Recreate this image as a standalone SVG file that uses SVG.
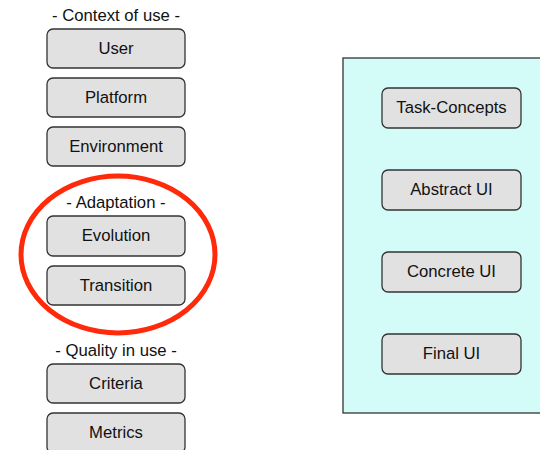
<svg xmlns="http://www.w3.org/2000/svg" width="540" height="450" viewBox="0 0 540 450">
<style>
.box{fill:#e1e1e1;stroke:#333;stroke-width:1.3}
.t{font-family:"Liberation Sans",Arial,sans-serif;font-size:16.7px;fill:#111;text-anchor:middle;dominant-baseline:central}
</style>
<rect width="540" height="450" fill="#fff"/>
<g id="container"><rect x="343" y="58" width="200" height="355" fill="#d3fcf8" stroke="#333" stroke-width="1.3"/></g>
<g id="lbl-context"><text class="t" x="116" y="15">- Context of use -</text></g>
<g id="user"><rect class="box" x="47" y="29" width="138" height="39" rx="6"/><text class="t" x="116" y="48">User</text></g>
<g id="platform"><rect class="box" x="47" y="78" width="138" height="39" rx="6"/><text class="t" x="116" y="97">Platform</text></g>
<g id="environment"><rect class="box" x="47" y="127" width="138" height="39" rx="6"/><text class="t" x="116" y="146">Environment</text></g>
<g id="lbl-adaptation"><text class="t" x="116" y="202.5">- Adaptation -</text></g>
<g id="evolution"><rect class="box" x="47" y="216" width="138" height="40" rx="6"/><text class="t" x="116" y="235.5">Evolution</text></g>
<g id="transition"><rect class="box" x="47" y="266" width="138" height="39" rx="6"/><text class="t" x="116" y="285">Transition</text></g>
<g id="lbl-quality"><text class="t" x="116" y="350.5">- Quality in use -</text></g>
<g id="criteria"><rect class="box" x="47" y="364" width="138" height="39" rx="6"/><text class="t" x="116" y="383">Criteria</text></g>
<g id="metrics"><rect class="box" x="47" y="413" width="138" height="40" rx="6"/><text class="t" x="116" y="432.5">Metrics</text></g>
<g id="task"><rect class="box" x="382" y="88" width="139" height="40" rx="6"/><text class="t" x="451.5" y="107.5">Task-Concepts</text></g>
<g id="abstract"><rect class="box" x="382" y="170" width="139" height="40" rx="6"/><text class="t" x="451.5" y="189.5">Abstract UI</text></g>
<g id="concrete"><rect class="box" x="382" y="252" width="139" height="40" rx="6"/><text class="t" x="451.5" y="271.5">Concrete UI</text></g>
<g id="final"><rect class="box" x="382" y="334" width="139" height="40" rx="6"/><text class="t" x="451.5" y="353.5">Final UI</text></g>
<g id="connectors"><ellipse cx="118" cy="254.5" rx="97" ry="78.5" fill="none" stroke="#ff2a0a" stroke-width="5"/></g>
</svg>
